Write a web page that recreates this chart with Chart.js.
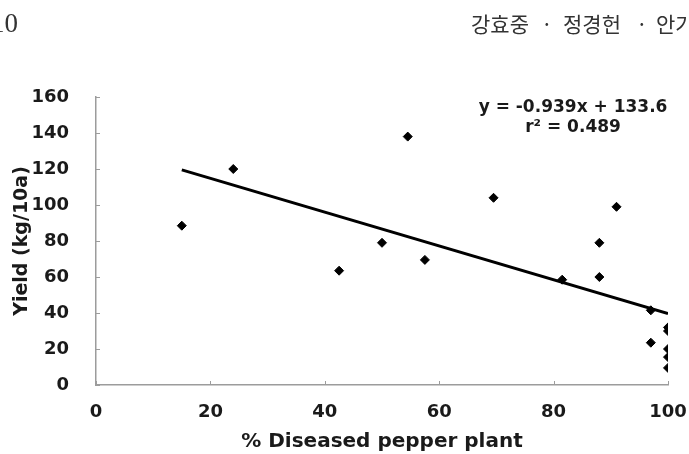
<!DOCTYPE html>
<html>
<head>
<meta charset="utf-8">
<script src="https://cdn.jsdelivr.net/npm/chart.js@4/dist/chart.umd.min.js"></script>
<style>
    html, body { margin: 0; padding: 0; background: #fff; overflow: hidden; }
    #wrap { position: relative; width: 689px; height: 454px; overflow: hidden; }
    #wrap canvas { position: absolute; left: 0; top: 0; }
    .head { position: absolute; white-space: nowrap; color: #333; line-height: 1; }
    .kr { font-family: 'Noto Sans CJK KR'; font-size: 21px; top: 13px; }
</style>
</head>
<body>
<div id="wrap">
    <canvas id="ScatterChart_yield" width="689" height="454"></canvas>
    <span class="head" style="left:-9px; top:10px; font-family:'Liberation Serif'; font-size:27px;">10</span>
    <span class="head kr" style="left:471px;">강효중</span>
    <span class="head kr" style="left:541px;">·</span>
    <span class="head kr" style="left:563px;">정경헌</span>
    <span class="head kr" style="left:636px;">·</span>
    <span class="head kr" style="left:656px;">안가</span>
</div>
<script>
// значения
let diseased_pct = [15, 24, 42.5, 50, 54.5, 57.5, 69.5, 81.5, 88, 88, 91, 97, 97, 100, 100, 100, 100, 100];
let yield_kg = [88.5, 120, 63.5, 79, 138, 69.5, 104, 58.5, 79, 60, 99, 41.5, 23.5, 32, 30, 20, 15.5, 9.5];

// линия тренда (концы)
let trend_x = [15, 100];
let trend_y = [119.5, 39.7];

let x_ticks = [0, 20, 40, 60, 80, 100];
let y_ticks = [0, 20, 40, 60, 80, 100, 120, 140, 160];

let equation_lines = ["y = -0.939x + 133.6", "r\u00B2 = 0.489"];
let equation_x = 83.4;
let equation_y = [154, 143.2];

const fontFamily = "'DejaVu Sans', sans-serif";
const textColor = "#1a1a1a";
const axisColor = "#9c9c9c";

function toPoints(xs, ys) {
    let pts = [];
    for (let i = 0; i < xs.length; i++) {
        pts.push({x: xs[i], y: ys[i]});
    }
    return pts;
}

// маленькие засечки внутрь области графика
const innerTicks = {
    id: 'innerTicks',
    beforeDatasetsDraw(chart) {
        const ctx = chart.ctx;
        const area = chart.chartArea;
        const xs = chart.scales.x;
        const ys = chart.scales.y;
        ctx.save();
        ctx.strokeStyle = axisColor;
        ctx.lineWidth = 1;
        xs.ticks.forEach(t => {
            const px = Math.round(xs.getPixelForValue(t.value)) + 0.5;
            ctx.beginPath();
            ctx.moveTo(px, area.bottom);
            ctx.lineTo(px, area.bottom - 4);
            ctx.stroke();
        });
        ys.ticks.forEach(t => {
            const py = Math.round(ys.getPixelForValue(t.value)) + 0.5;
            ctx.beginPath();
            ctx.moveTo(area.left, py);
            ctx.lineTo(area.left + 4, py);
            ctx.stroke();
        });
        ctx.restore();
    }
};

// уравнение регрессии
const equationText = {
    id: 'equationText',
    afterDatasetsDraw(chart) {
        const ctx = chart.ctx;
        ctx.save();
        ctx.font = "bold 17px " + fontFamily;
        ctx.fillStyle = textColor;
        ctx.textAlign = 'center';
        ctx.textBaseline = 'middle';
        equation_lines.forEach((txt, i) => {
            ctx.fillText(txt, chart.scales.x.getPixelForValue(equation_x), chart.scales.y.getPixelForValue(equation_y[i]));
        });
        ctx.restore();
    }
};

function ScatterChart_yield(id_chart) {
    const ctx = document.getElementById(id_chart).getContext('2d');
    const myScatterChart = new Chart(ctx, {
        type: 'scatter',
        data: {
            datasets: [{
                label: 'Yield',
                data: toPoints(diseased_pct, yield_kg),
                pointStyle: 'rectRot',
                pointRadius: 4.5,
                pointBackgroundColor: '#000',
                pointBorderColor: '#000',
                pointBorderWidth: 1,
                showLine: false
            }, {
                label: 'Trend',
                data: toPoints(trend_x, trend_y),
                showLine: true,
                borderColor: '#000',
                borderWidth: 3,
                pointRadius: 0,
                fill: false
            }]
        },
        options: {
            responsive: false,
            animation: false,
            layout: {
                padding: {top: 97, right: 21, left: 0, bottom: 0}
            },
            plugins: {
                legend: {display: false},
                tooltip: {enabled: false}
            },
            scales: {
                x: {
                    type: 'linear',
                    position: 'bottom',
                    min: 0,
                    max: 100,
                    afterFit: function(scale) {
                        scale.height = 69;
                        scale.paddingLeft = 0;
                        scale.paddingRight = 0;
                    },
                    afterBuildTicks: function(scale) { scale.ticks = x_ticks.map(v => ({value: v})); },
                    grid: {display: false},
                    border: {display: true, color: axisColor, width: 1.5},
                    ticks: {
                        color: textColor,
                        padding: 9,
                        maxRotation: 0,
                        autoSkip: false,
                        font: {family: fontFamily, size: 18, weight: 'bold'}
                    },
                    title: {
                        display: true,
                        text: '% Diseased pepper plant',
                        color: textColor,
                        padding: {top: 0, bottom: 0},
                        font: {family: fontFamily, size: 20, weight: 'bold'}
                    }
                },
                y: {
                    type: 'linear',
                    min: 0,
                    max: 160,
                    afterFit: function(scale) {
                        scale.width = 96;
                        scale.paddingTop = 0;
                        scale.paddingBottom = 0;
                    },
                    afterBuildTicks: function(scale) { scale.ticks = y_ticks.map(v => ({value: v})); },
                    grid: {display: false},
                    border: {display: true, color: axisColor, width: 1.5},
                    ticks: {
                        color: textColor,
                        padding: 19,
                        autoSkip: false,
                        font: {family: fontFamily, size: 18, weight: 'bold'}
                    },
                    title: {
                        display: true,
                        text: 'Yield (kg/10a)',
                        color: textColor,
                        padding: {top: 11, bottom: 0},
                        font: {family: fontFamily, size: 19, weight: 'bold'}
                    }
                }
            }
        },
        plugins: [innerTicks, equationText]
    });
}

ScatterChart_yield("ScatterChart_yield");
</script>
</body>
</html>
